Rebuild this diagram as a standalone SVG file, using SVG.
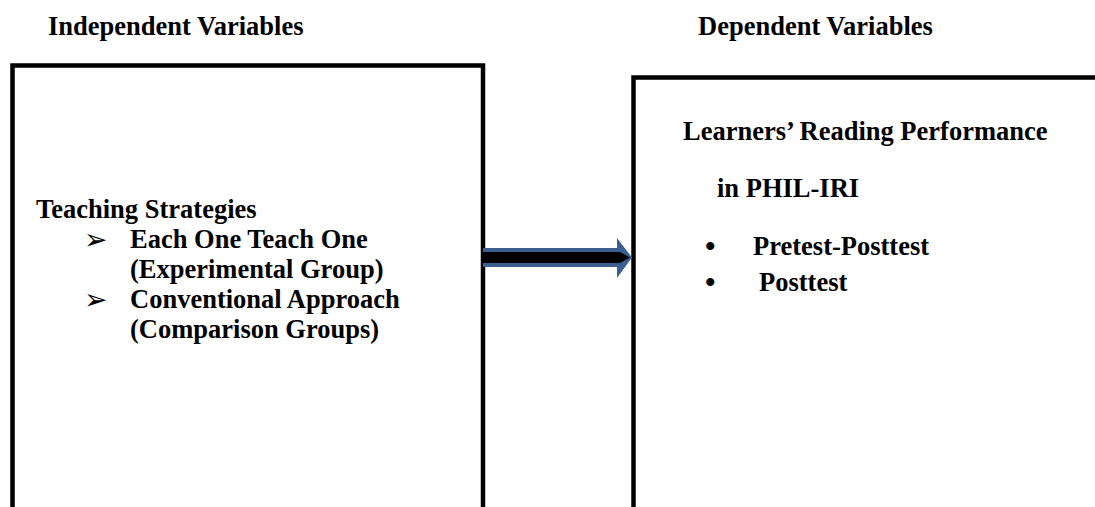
<svg xmlns="http://www.w3.org/2000/svg" width="1095" height="507" viewBox="0 0 1095 507">
  <style>
    .t { font-family: "Liberation Serif", "Times New Roman", serif; font-weight: bold; font-size: 26.5px; fill: #000; }
    .box { fill: none; stroke: #000; stroke-width: 4.5; }
    .sym { font-family: "DejaVu Sans", sans-serif; font-size: 28px; fill: #000; }
    .dot { font-family: "Liberation Serif", "Times New Roman", serif; font-weight: bold; font-size: 30px; fill: #000; }
  </style>
  <rect width="1095" height="507" fill="#fff"/>

  <text class="t" x="48" y="35">Independent Variables</text>
  <text class="t" x="698" y="35">Dependent Variables</text>

  <g id="independent">
    <rect class="box" x="12.5" y="65.5" width="470.5" height="470"/>
    <text class="t" x="36" y="218">Teaching Strategies</text>
    <text class="sym" x="84" y="249">➢</text>
    <text class="t" x="130" y="248">Each One Teach One</text>
    <text class="t" x="130" y="278">(Experimental Group)</text>
    <text class="sym" x="84" y="309">➢</text>
    <text class="t" x="130" y="308">Conventional Approach</text>
    <text class="t" x="130" y="338">(Comparison Groups)</text>
  </g>

  <g id="dependent">
    <rect class="box" x="633.5" y="77.5" width="480" height="460"/>
    <text class="t" x="683" y="140">Learners’ Reading Performance</text>
    <text class="t" x="717" y="197">in PHIL-IRI</text>
    <text class="dot" x="705" y="256">•</text>
    <text class="t" x="753" y="255">Pretest-Posttest</text>
    <text class="dot" x="705" y="292">•</text>
    <text class="t" x="759" y="291">Posttest</text>
  </g>

  <g id="connectors">
    <polygon fill="#3B5F8F" points="483,248 617,248 617,238 632,257.5 617,278 617,267 483,267"/>
    <polygon fill="#000" points="483,252 620,252 630,257.5 620,263 483,263"/>
  </g>
</svg>
